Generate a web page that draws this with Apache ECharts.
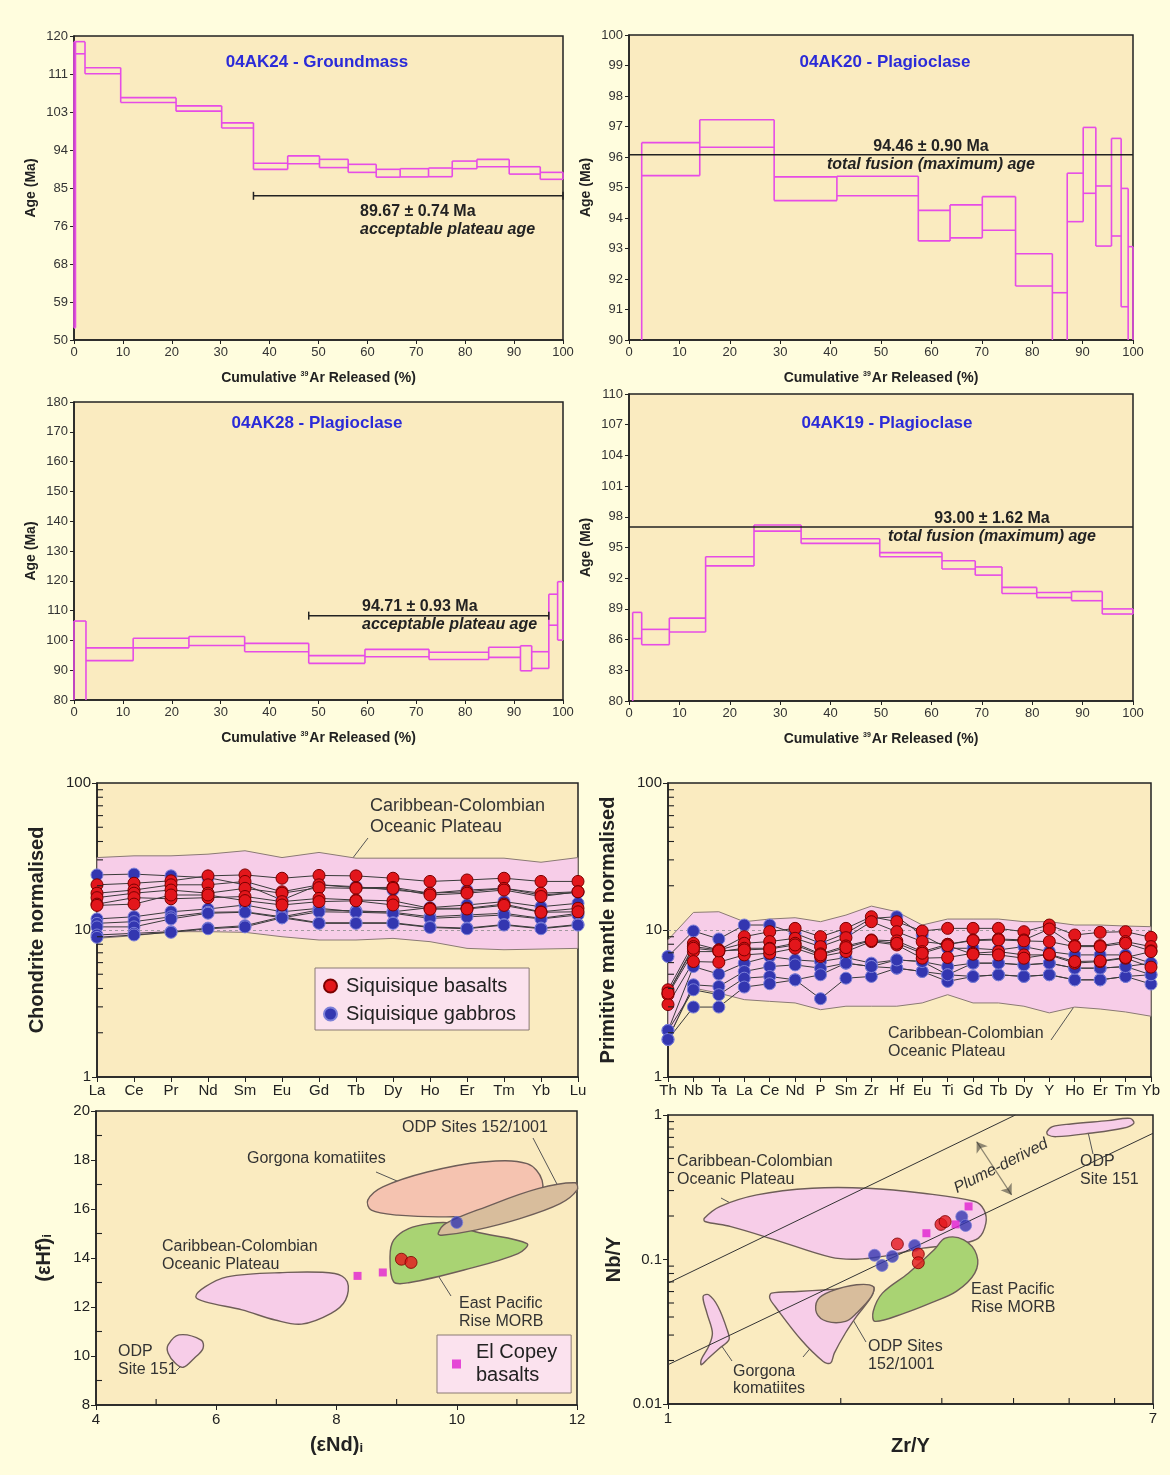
<!DOCTYPE html>
<html><head><meta charset="utf-8">
<script src="https://cdn.jsdelivr.net/npm/echarts@6.0.0/dist/echarts.min.js"></script>
<style>html,body{margin:0;padding:0;background:#FFFDDE;}#chart{width:1170px;height:1475px;}</style>
</head><body><div id="chart"></div>
<script>
// ================= DATA =================
// --- 40Ar/39Ar step-heating spectra (step boundaries in % 39Ar, age upper/lower limits in Ma) ---
const specA_title = '04AK24 - Groundmass';
const specA_steps = [0, 0.3, 2.25, 9.55, 20.87, 30.2, 36.7, 43.7, 50.2, 56.07, 61.8, 66.7, 72.5, 77.35, 82.4, 89.0, 95.35, 100];
const specA_hi = [118.7, 118.7, 112.7, 105.8, 103.9, 100.0, 90.7, 92.4, 91.6, 90.45, 89.3, 89.45, 89.6, 91.2, 91.6, 89.9, 88.6];
const specA_lo = [52.8, 115.9, 111.3, 104.7, 102.7, 98.8, 89.3, 90.6, 89.7, 88.6, 87.5, 87.55, 87.6, 89.45, 89.9, 88.2, 87.0];
const specA_yTicks = ['50', '59', '68', '76', '85', '94', '103', '111', '120'];
const specA_bar = [[36.7, 83.2], [100, 83.2]];
const specA_text = ['89.67 ± 0.74 Ma', 'acceptable plateau age'];

const specB_title = '04AK20 - Plagioclase';
const specB_steps = [0, 2.52, 14.04, 28.8, 41.25, 57.4, 63.7, 70.1, 76.7, 84.0, 86.95, 90.12, 92.63, 95.73, 97.65, 99.04, 100];
const specB_hi = [88.5, 96.47, 97.22, 95.35, 95.37, 94.25, 94.43, 94.7, 92.83, 91.55, 95.47, 96.97, 95.05, 96.61, 94.97, 93.06];
const specB_lo = [85.0, 95.39, 96.32, 94.57, 94.73, 93.25, 93.35, 93.6, 91.77, 89.0, 93.88, 94.81, 93.08, 93.41, 91.09, 88.0];
const specB_yTicks = ['90', '91', '92', '93', '94', '95', '96', '97', '98', '99', '100'];
const specB_bar = [[0, 96.07], [100, 96.07]];
const specB_text = ['94.46 ± 0.90 Ma', 'total fusion (maximum) age'];

const specC_title = '04AK28 - Plagioclase';
const specC_steps = [0, 2.45, 12.1, 23.5, 34.9, 48.0, 59.5, 72.6, 84.8, 91.3, 93.6, 97.1, 98.9, 100];
const specC_hi = [106.5, 97.5, 100.7, 101.3, 99.0, 94.9, 97.0, 96.0, 97.7, 98.2, 96.2, 115.5, 119.7];
const specC_lo = [75.0, 93.2, 97.5, 98.3, 96.2, 92.3, 94.5, 93.6, 94.3, 89.8, 90.6, 105.1, 100.1];
const specC_yTicks = ['80', '90', '100', '110', '120', '130', '140', '150', '160', '170', '180'];
const specC_bar = [[48.0, 108.3], [97.1, 108.3]];
const specC_text = ['94.71 ± 0.93 Ma', 'acceptable plateau age'];

const specD_title = '04AK19 - Plagioclase';
const specD_steps = [0, 0.73, 2.52, 8.0, 15.2, 24.8, 34.15, 49.75, 62.1, 68.7, 74.0, 80.9, 87.8, 93.9, 100];
const specD_hi = [78.0, 88.66, 87.0, 88.1, 94.1, 97.2, 95.85, 94.5, 93.7, 93.1, 91.1, 90.6, 90.7, 89.0];
const specD_lo = [75.0, 86.1, 85.5, 86.75, 93.2, 96.6, 95.4, 94.1, 92.9, 92.3, 90.5, 90.1, 89.8, 88.5];
const specD_yTicks = ['80', '83', '86', '89', '92', '95', '98', '101', '104', '107', '110'];
const specD_bar = [[0, 97.0], [100, 97.0]];
const specD_text = ['93.00 ± 1.62 Ma', 'total fusion (maximum) age'];

// --- Chondrite-normalised REE ---
const reeElements = ['La', 'Ce', 'Pr', 'Nd', 'Sm', 'Eu', 'Gd', 'Tb', 'Dy', 'Ho', 'Er', 'Tm', 'Yb', 'Lu'];
const reeCcopUpper = [31.1, 31.95, 31.95, 32.8, 34.6, 31.1, 33.7, 30.8, 30.8, 30.8, 30.8, 30.8, 28.9, 31.1];
const reeCcopLower = [8.77, 9.15, 9.74, 9.74, 9.64, 9.0, 8.55, 8.55, 8.77, 8.33, 7.5, 7.34, 7.42, 7.5];
const reeBasalts = [
  [20.3, 20.8, 21.6, 23.35, 23.7, 22.5, 23.5, 23.35, 22.5, 21.4, 21.9, 22.5, 21.4, 21.4],
  [17.8, 18.7, 20.3, 20.3, 21.4, 18.2, 20.3, 19.4, 19.5, 17.8, 18.2, 19.2, 17.8, 18.2],
  [16.6, 17.8, 18.7, 17.8, 19.2, 17.8, 19.4, 19.2, 19.2, 17.3, 17.8, 18.7, 16.9, 18.2],
  [15.0, 16.6, 16.3, 16.6, 16.9, 15.6, 16.4, 16.0, 15.8, 14.05, 14.05, 15.0, 13.3, 14.05],
  [14.7, 15.0, 17.3, 17.3, 15.85, 14.8, 15.6, 15.8, 14.8, 13.85, 13.9, 14.7, 13.2, 13.3]
];
const reeGabbros = [
  [23.7, 24.0, 23.35, 22.7, 20.3, 16.0, 20.3, 19.7, 18.7, 17.8, 18.7, 19.2, 17.3, 18.0],
  [11.9, 12.3, 13.3, 13.9, 14.8, 13.3, 14.05, 13.3, 13.3, 14.2, 14.8, 15.6, 14.4, 15.2],
  [11.1, 11.4, 12.3, 13.2, 13.3, 12.3, 13.7, 13.5, 13.2, 12.3, 12.65, 13.0, 12.0, 13.0],
  [10.5, 10.5, 11.9, 13.0, 13.2, 12.1, 13.3, 13.2, 13.0, 12.0, 12.3, 12.65, 11.9, 12.65],
  [9.25, 9.49, 9.74, 10.3, 10.7, 12.3, 11.2, 11.2, 11.2, 10.5, 10.3, 10.9, 10.3, 10.9],
  [8.91, 9.25, 9.64, 10.2, 10.5, 12.1, 11.1, 11.1, 11.1, 10.4, 10.2, 10.8, 10.2, 10.8]
];
const logMinorTicks_1_100 = [2, 3, 4, 5, 6, 7, 8, 9, 20, 30, 40, 50, 60, 70, 80, 90];

// --- Primitive-mantle-normalised multi-element ---
const pmElements = ['Th', 'Nb', 'Ta', 'La', 'Ce', 'Nd', 'P', 'Sm', 'Zr', 'Hf', 'Eu', 'Ti', 'Gd', 'Tb', 'Dy', 'Y', 'Ho', 'Er', 'Tm', 'Yb'];
const pmCcopUpper = [8.56, 13.17, 13.31, 11.39, 11.87, 12.12, 11.39, 12.63, 14.54, 13.31, 10.81, 11.87, 11.87, 11.87, 11.39, 11.39, 10.81, 10.81, 10.64, 10.53];
const pmCcopLower = [1.85, 4.03, 3.72, 3.36, 3.27, 3.19, 2.87, 3.03, 3.03, 3.03, 3.19, 3.63, 3.19, 3.19, 3.03, 2.73, 2.99, 2.90, 2.77, 2.59];
const pmBasalts = [
  [3.92, 8.12, 7.32, 9.01, 9.74, 10.26, 9.01, 10.26, 12.31, 11.39, 9.84, 10.26, 10.26, 10.26, 9.74, 10.81, 9.25, 9.64, 9.74, 8.92],
  [3.72, 7.71, 7.32, 8.12, 8.34, 8.78, 7.71, 8.87, 11.39, 9.74, 8.34, 7.99, 8.56, 8.69, 8.56, 10.16, 7.83, 7.83, 8.34, 7.71],
  [3.63, 7.13, 7.13, 7.51, 7.51, 8.12, 6.88, 7.79, 8.56, 8.43, 7.13, 7.99, 8.47, 8.56, 8.43, 8.34, 7.71, 7.71, 8.12, 7.21],
  [3.11, 6.10, 6.04, 6.77, 6.95, 7.51, 6.60, 7.13, 8.34, 7.91, 6.43, 6.50, 6.95, 7.13, 6.77, 6.77, 5.95, 6.10, 6.43, 5.59],
  [3.72, 7.51, 7.21, 7.32, 7.43, 7.91, 6.77, 7.59, 8.47, 8.12, 6.95, 7.83, 6.84, 6.77, 6.43, 6.84, 6.10, 6.16, 6.50, 7.13]
];
const pmGabbros = [
  [6.60, 9.84, 8.69, 10.81, 10.81, 9.49, 8.12, 9.49, 11.99, 12.31, 9.25, 7.51, 7.51, 7.32, 7.71, 7.13, 6.77, 6.77, 6.77, 5.95],
  [2.07, 5.64, 5.01, 5.95, 6.60, 6.26, 6.10, 6.50, 5.95, 6.26, 6.10, 5.64, 5.95, 5.95, 5.79, 5.95, 5.50, 5.50, 5.64, 5.95],
  [1.80, 4.24, 4.13, 5.22, 5.64, 5.79, 5.50, 5.95, 5.64, 5.50, 5.22, 4.96, 4.83, 4.96, 4.83, 4.96, 4.58, 4.58, 4.83, 4.96],
  [2.07, 3.92, 3.63, 4.70, 4.83, 4.58, 3.41, 4.70, 4.83, 5.50, 5.22, 4.47, 4.83, 4.96, 4.83, 4.96, 4.58, 4.58, 4.83, 4.29],
  [1.80, 2.99, 2.99, 4.09, 4.31, 4.58, 4.96, 5.95, 5.64, 6.26, 6.10, 4.96, 5.95, 5.95, 5.79, 5.95, 5.50, 5.50, 5.64, 4.96]
];

// --- (eHf)i vs (eNd)i ---
const hfCcop = [[5.66, 12.42], [5.82, 12.83], [6.18, 13.23], [7.05, 13.40], [7.97, 13.37], [8.18, 13.03], [8.15, 12.28], [7.91, 11.74], [7.42, 11.30], [6.98, 11.47], [6.43, 11.88], [5.82, 12.21]];
const hfOdp151 = [[5.2, 10.45], [5.38, 10.86], [5.75, 10.65], [5.78, 10.31], [5.63, 9.90], [5.45, 9.54], [5.32, 9.70], [5.2, 10.11]];
const hfGorgona = [[8.52, 16.36], [8.77, 16.90], [9.51, 17.51], [10.43, 17.92], [11.17, 17.85], [11.42, 17.17], [11.35, 16.36], [10.74, 15.82], [9.82, 15.68], [9.02, 15.75], [8.58, 15.95]];
const hfOdp152 = [[9.69, 15.0], [9.82, 15.41], [10.49, 16.09], [11.35, 16.83], [11.97, 17.07], [12.0, 16.77], [11.72, 16.22], [11.05, 15.61], [10.31, 15.14], [9.75, 14.93]];
const hfEpr = [[8.95, 13.03], [8.89, 14.05], [8.95, 14.73], [9.2, 15.2], [9.57, 15.41], [9.88, 15.43], [10.31, 15.07], [11.17, 14.59], [11.02, 14.18], [10.12, 13.51], [9.2, 12.99]];
const hfBasalts = [[9.08, 13.95], [9.24, 13.82]];
const hfGabbros = [[10.0, 15.45]];
const hfCopey = [[8.35, 13.27], [8.77, 13.41]];
const hfMinorX = [5, 7, 9, 11];
const hfMinorY = [9, 11, 13, 15, 17, 19];

// --- Nb/Y vs Zr/Y ---
const nbyCcop = [[1.157, 0.1931], [1.231, 0.2325], [1.428, 0.280], [1.783, 0.3112], [2.227, 0.3112], [2.783, 0.2874], [3.424, 0.2518], [3.553, 0.2205], [3.580, 0.1784], [3.475, 0.1405], [3.227, 0.1283], [2.783, 0.1198], [2.399, 0.106], [2.131, 0.1005], [1.920, 0.1038], [1.537, 0.1368], [1.287, 0.169], [1.160, 0.1831]];
const nbyOdp151 = [[4.575, 0.767], [4.677, 0.831], [5.036, 0.867], [5.841, 0.914], [6.386, 0.948], [6.481, 0.876], [6.2, 0.809], [5.424, 0.747], [4.747, 0.708], [4.595, 0.727]];
const nbyGorgonaSmall = [[1.151, 0.0555], [1.177, 0.057], [1.222, 0.0473], [1.268, 0.0326], [1.277, 0.0278], [1.231, 0.0244], [1.177, 0.0208], [1.143, 0.0187], [1.143, 0.0203], [1.177, 0.025], [1.195, 0.031], [1.169, 0.0426]];
const nbyGorgonaBig = [[1.515, 0.0585], [1.681, 0.0601], [1.892, 0.0617], [2.068, 0.0633], [2.278, 0.065], [2.262, 0.0555], [2.131, 0.0404], [2.038, 0.031], [1.949, 0.0225], [1.920, 0.0192], [1.864, 0.0197], [1.706, 0.0278], [1.537, 0.0473], [1.504, 0.054]];
const nbyOdp152 = [[1.823, 0.0526], [1.920, 0.0601], [2.131, 0.0668], [2.278, 0.065], [2.262, 0.0555], [2.131, 0.0426], [2.038, 0.0373], [1.892, 0.0373], [1.815, 0.0426]];
const nbyEpr = [[2.278, 0.0437], [2.364, 0.0585], [2.623, 0.0804], [2.909, 0.1166], [3.042, 0.1405], [3.276, 0.1368], [3.450, 0.1077], [3.424, 0.0804], [3.18, 0.0601], [2.866, 0.0499], [2.584, 0.0426], [2.295, 0.0373]];
const nbyBasalts = [[2.51, 0.128], [2.73, 0.109], [2.73, 0.095], [2.99, 0.175], [3.04, 0.183]];
const nbyGabbros = [[2.29, 0.107], [2.36, 0.091], [2.46, 0.105], [2.69, 0.125], [3.25, 0.198], [3.30, 0.172]];
const nbyCopey = [[2.82, 0.152], [3.17, 0.175], [3.34, 0.233]];
const nbyTrendUpper = [[1, 0.0686], [4.03, 1]];
const nbyTrendLower = [[1, 0.0187], [7, 0.747]];
const nbyPlumeArrow = [[3.45, 0.654], [3.97, 0.28]];
const nbyMinorX = [2, 3, 4, 5, 6];
const nbyMinorY = [0.02, 0.03, 0.04, 0.05, 0.06, 0.07, 0.08, 0.09, 0.2, 0.3, 0.4, 0.5, 0.6, 0.7, 0.8, 0.9];

// ================= STYLE =================
const FONT = '"Liberation Sans", Arial, sans-serif';
const PLOT_BG = '#FAEBC0';
const AX = '#222222';
const MAGENTA = '#E64CE6';
const RED = '#E3161B', RED_EDGE = '#7A0000';
const BLUE = '#3336B0', BLUE_EDGE = '#7C80D8';
const COPEY = '#E020D0';
const PINK = '#F7CDE8', SALMON = '#F5C3B0', TAN = '#D8BD9C', GREEN = '#A9D373', OUTLINE = '#6E5E58';

const grids = [], xAxes = [], yAxes = [], series = [], graphics = [];
function addGrid(g) {
  grids.push(Object.assign({show: true, backgroundColor: PLOT_BG, borderColor: AX, borderWidth: 1.5}, g));
  return grids.length - 1;
}
const axLine = {show: true, lineStyle: {color: AX, width: 1.5}};

// ---------- spectra ----------
function stepSeries(steps, hi, lo, yMin, yMax, xi, yi) {
  const n = hi.length;
  const clamp = v => Math.max(yMin, Math.min(yMax, v));
  const inR = v => v >= yMin && v <= yMax;
  return {
    type: 'custom', xAxisIndex: xi, yAxisIndex: yi, silent: true, z: 3,
    data: hi.map((h, i) => [steps[i], steps[i + 1], lo[i], h]),
    encode: {x: [0, 1], y: [2, 3]},
    renderItem(params, api) {
      const i = params.dataIndex;
      const x0 = steps[i], x1 = steps[i + 1];
      const segs = [];
      if (inR(hi[i])) segs.push([[x0, hi[i]], [x1, hi[i]]]);
      if (inR(lo[i])) segs.push([[x0, lo[i]], [x1, lo[i]]]);
      const vLo = i === 0 ? lo[0] : Math.min(lo[i - 1], lo[i]);
      const vHi = i === 0 ? hi[0] : Math.max(hi[i - 1], hi[i]);
      if (vHi >= yMin && vLo <= yMax) segs.push([[x0, clamp(vLo)], [x0, clamp(vHi)]]);
      if (i === n - 1 && hi[i] >= yMin && lo[i] <= yMax) segs.push([[x1, clamp(lo[i])], [x1, clamp(hi[i])]]);
      return {
        type: 'group',
        children: segs.map(s => {
          const a = api.coord(s[0]), b = api.coord(s[1]);
          return {type: 'line', shape: {x1: a[0], y1: a[1], x2: b[0], y2: b[1]}, style: {stroke: MAGENTA, lineWidth: 1.6}};
        })
      };
    }
  };
}

const spectra = [
  {title: specA_title, steps: specA_steps, hi: specA_hi, lo: specA_lo, ticks: specA_yTicks, bar: specA_bar, text: specA_text, caps: true,
   grid: {left: 74, top: 36, width: 489, height: 304}, titlePos: [317, 62], textPos: [360, 212], textAlign: 'left'},
  {title: specB_title, steps: specB_steps, hi: specB_hi, lo: specB_lo, ticks: specB_yTicks, bar: specB_bar, text: specB_text, caps: false,
   grid: {left: 629, top: 35, width: 504, height: 305}, titlePos: [885, 62], textPos: [931, 147], textAlign: 'center'},
  {title: specC_title, steps: specC_steps, hi: specC_hi, lo: specC_lo, ticks: specC_yTicks, bar: specC_bar, text: specC_text, caps: true,
   grid: {left: 74, top: 402, width: 489, height: 298}, titlePos: [317, 423], textPos: [362, 607], textAlign: 'left'},
  {title: specD_title, steps: specD_steps, hi: specD_hi, lo: specD_lo, ticks: specD_yTicks, bar: specD_bar, text: specD_text, caps: false,
   grid: {left: 629, top: 394, width: 504, height: 307}, titlePos: [887, 423], textPos: [992, 519], textAlign: 'center'}
];

spectra.forEach(sp => {
  const gi = addGrid(sp.grid);
  const yMin = Number(sp.ticks[0]), yMax = Number(sp.ticks[sp.ticks.length - 1]);
  const xi = xAxes.length;
  xAxes.push({
    gridIndex: gi, type: 'value', min: 0, max: 100, interval: 10, position: 'bottom',
    axisLine: axLine, axisTick: {show: true, length: 4, lineStyle: {color: AX}},
    axisLabel: {fontSize: 13, color: '#333', fontFamily: FONT, margin: 6},
    splitLine: {show: false},
    name: '{a|Cumulative }{s|39}{a|Ar Released (%)}', nameLocation: 'middle', nameGap: 31,
    nameTextStyle: {rich: {
      a: {fontSize: 14, fontWeight: 'bold', color: AX, fontFamily: FONT},
      s: {fontSize: 7, fontWeight: 'bold', color: AX, fontFamily: FONT, verticalAlign: 'top', padding: [0, 1, 0, 0]}
    }}
  });
  const yi = yAxes.length;
  yAxes.push({gridIndex: gi, type: 'value', min: yMin, max: yMax, show: false, position: 'right', splitLine: {show: false}});
  yAxes.push({
    gridIndex: gi, type: 'category', data: sp.ticks, boundaryGap: false, position: 'left',
    axisLine: axLine, axisTick: {show: true, length: 4, lineStyle: {color: AX}},
    axisLabel: {interval: 0, fontSize: 13, color: '#333', fontFamily: FONT, margin: 6},
    splitLine: {show: false},
    name: 'Age (Ma)', nameLocation: 'middle', nameGap: 36,
    nameTextStyle: {fontSize: 14, fontWeight: 'bold', color: AX, fontFamily: FONT}
  });
  series.push(stepSeries(sp.steps, sp.hi, sp.lo, yMin, yMax, xi, yi));
  series.push({
    type: 'line', xAxisIndex: xi, yAxisIndex: yi, data: sp.bar, silent: true, z: 4,
    symbol: sp.caps ? 'rect' : 'none', symbolSize: [1.5, 8], showSymbol: sp.caps,
    lineStyle: {color: AX, width: 1.5}, itemStyle: {color: AX}
  });
  graphics.push({type: 'text', x: sp.titlePos[0], y: sp.titlePos[1], silent: true,
    style: {text: sp.title, font: 'bold 17px ' + FONT, fill: '#2B2BD8', align: 'center', verticalAlign: 'middle'}});
  graphics.push({type: 'text', x: sp.textPos[0], y: sp.textPos[1], silent: true,
    style: {text: sp.text[0], font: 'bold 16px ' + FONT, fill: AX, align: sp.textAlign, verticalAlign: 'middle'}});
  graphics.push({type: 'text', x: sp.textPos[0], y: sp.textPos[1] + 18, silent: true,
    style: {text: sp.text[1], font: 'italic bold 16px ' + FONT, fill: AX, align: sp.textAlign, verticalAlign: 'middle'}});
});

// ---------- helpers for lower panels ----------
function minorTickSeries(xi, yi, pts, dx, dy) {
  return {
    type: 'custom', xAxisIndex: xi, yAxisIndex: yi, data: pts, encode: {x: 0, y: 1}, silent: true, z: 8,
    renderItem(params, api) {
      const p = api.coord([api.value(0), api.value(1)]);
      return {type: 'line', shape: {x1: p[0], y1: p[1], x2: p[0] + dx, y2: p[1] + dy}, style: {stroke: AX, lineWidth: 1.1}};
    }
  };
}
function envelopeSeries(xi, yi, upper, lower) {
  return {
    type: 'custom', xAxisIndex: xi, yAxisIndex: yi, silent: true, z: 1,
    data: upper.map((v, i) => [i, v, lower[i]]), encode: {x: 0, y: [1, 2]},
    renderItem(params, api) {
      if (params.dataIndex !== 0) return;
      const top = upper.map((v, i) => api.coord([i, v]));
      const bot = lower.map((v, i) => api.coord([i, v])).reverse();
      return {type: 'polygon', shape: {points: top.concat(bot)}, style: {fill: PINK, stroke: '#8A7A74', lineWidth: 1}};
    },
    markLine: {silent: true, symbol: 'none', label: {show: false}, data: [{yAxis: 10}],
      lineStyle: {type: [3, 3], color: '#8A8A8A', width: 0.8}}
  };
}
function sampleLine(name, vals, xi, yi, color, edge) {
  return {
    type: 'line', name, xAxisIndex: xi, yAxisIndex: yi, data: vals, silent: true, z: 5,
    symbol: 'circle', symbolSize: 12, showSymbol: true, showAllSymbol: true,
    lineStyle: {color: '#3A3A3A', width: 1}, itemStyle: {color, borderColor: edge, borderWidth: 1}
  };
}
function regionSeries(xi, yi, pts, fill) {
  return {
    type: 'custom', xAxisIndex: xi, yAxisIndex: yi, data: pts, encode: {x: 0, y: 1}, silent: true, z: 1,
    renderItem(params, api) {
      if (params.dataIndex !== 0) return;
      return {type: 'polygon', shape: {points: pts.map(p => api.coord(p)), smooth: 0.35},
        style: {fill, stroke: OUTLINE, lineWidth: 1.4}};
    }
  };
}
function scatterSeries(name, pts, xi, yi, kind) {
  const s = {type: 'scatter', name, xAxisIndex: xi, yAxisIndex: yi, data: pts, silent: true, z: 7};
  if (kind === 'red') Object.assign(s, {symbol: 'circle', symbolSize: 12, itemStyle: {color: RED, borderColor: RED_EDGE, borderWidth: 1}});
  if (kind === 'blue') Object.assign(s, {symbol: 'circle', symbolSize: 12, itemStyle: {color: BLUE, borderColor: BLUE_EDGE, borderWidth: 1}});
  if (kind === 'copey') Object.assign(s, {symbol: 'rect', symbolSize: 8, itemStyle: {color: COPEY}});
  return s;
}
const lowLabel = {fontSize: 15, color: AX, fontFamily: FONT};
const bigName = {fontSize: 20, fontWeight: 'bold', color: AX, fontFamily: FONT};
const tickOut = {show: true, length: 5, lineStyle: {color: AX}};

// ---------- REE panel ----------
{
  const gi = addGrid({left: 97, top: 783, width: 481, height: 294});
  const xi = xAxes.length, yi = yAxes.length;
  xAxes.push({gridIndex: gi, type: 'category', data: reeElements, boundaryGap: false, axisLine: axLine, axisTick: tickOut,
    axisLabel: Object.assign({interval: 0, margin: 6}, lowLabel), splitLine: {show: false}});
  yAxes.push({gridIndex: gi, type: 'log', logBase: 10, min: 1, max: 100, axisLine: axLine, axisTick: tickOut,
    axisLabel: Object.assign({margin: 6}, lowLabel), splitLine: {show: false},
    name: 'Chondrite normalised', nameLocation: 'middle', nameGap: 50, nameTextStyle: bigName});
  series.push(envelopeSeries(xi, yi, reeCcopUpper, reeCcopLower));
  reeGabbros.forEach(v => series.push(sampleLine('Siquisique gabbros', v, xi, yi, BLUE, BLUE_EDGE)));
  reeBasalts.forEach(v => series.push(sampleLine('Siquisique basalts', v, xi, yi, RED, RED_EDGE)));
  series.push(minorTickSeries(xi, yi, logMinorTicks_1_100.map(v => [0, v]), 6, 0));
  graphics.push({type: 'text', x: 370, y: 806, silent: true, style: {text: 'Caribbean-Colombian', font: '18px ' + FONT, fill: '#333', align: 'left', verticalAlign: 'middle'}});
  graphics.push({type: 'text', x: 370, y: 827, silent: true, style: {text: 'Oceanic Plateau', font: '18px ' + FONT, fill: '#333', align: 'left', verticalAlign: 'middle'}});
  graphics.push({type: 'line', silent: true, shape: {x1: 368, y1: 838, x2: 349, y2: 863}, style: {stroke: '#555', lineWidth: 1}});
}

// ---------- Spider panel ----------
{
  const gi = addGrid({left: 668, top: 783, width: 483, height: 294});
  const xi = xAxes.length, yi = yAxes.length;
  xAxes.push({gridIndex: gi, type: 'category', data: pmElements, boundaryGap: false, axisLine: axLine, axisTick: tickOut,
    axisLabel: Object.assign({interval: 0, margin: 6}, lowLabel), splitLine: {show: false}});
  yAxes.push({gridIndex: gi, type: 'log', logBase: 10, min: 1, max: 100, axisLine: axLine, axisTick: tickOut,
    axisLabel: Object.assign({margin: 6}, lowLabel), splitLine: {show: false},
    name: 'Primitive mantle normalised', nameLocation: 'middle', nameGap: 50, nameTextStyle: bigName});
  series.push(envelopeSeries(xi, yi, pmCcopUpper, pmCcopLower));
  pmGabbros.forEach(v => series.push(sampleLine('Siquisique gabbros', v, xi, yi, BLUE, BLUE_EDGE)));
  pmBasalts.forEach(v => series.push(sampleLine('Siquisique basalts', v, xi, yi, RED, RED_EDGE)));
  series.push(minorTickSeries(xi, yi, logMinorTicks_1_100.map(v => [0, v]), 6, 0));
  graphics.push({type: 'text', x: 888, y: 1034, silent: true, style: {text: 'Caribbean-Colombian', font: '16px ' + FONT, fill: '#333', align: 'left', verticalAlign: 'middle'}});
  graphics.push({type: 'text', x: 888, y: 1052, silent: true, style: {text: 'Oceanic Plateau', font: '16px ' + FONT, fill: '#333', align: 'left', verticalAlign: 'middle'}});
  graphics.push({type: 'line', silent: true, shape: {x1: 1051, y1: 1040, x2: 1080, y2: 998}, style: {stroke: '#555', lineWidth: 1}});
}

// ---------- eHf vs eNd ----------
{
  const gi = addGrid({left: 96, top: 1111, width: 481, height: 294});
  const xi = xAxes.length, yi = yAxes.length;
  xAxes.push({gridIndex: gi, type: 'value', min: 4, max: 12, interval: 2, axisLine: axLine, axisTick: tickOut,
    axisLabel: Object.assign({margin: 7}, lowLabel), splitLine: {show: false},
    name: '{a|(εNd)}{s|i}', nameLocation: 'middle', nameGap: 30,
    nameTextStyle: {rich: {a: bigName, s: {fontSize: 13, fontWeight: 'bold', color: AX, fontFamily: FONT, verticalAlign: 'bottom'}}}});
  yAxes.push({gridIndex: gi, type: 'value', min: 8, max: 20, interval: 2, axisLine: axLine, axisTick: tickOut,
    axisLabel: Object.assign({margin: 6}, lowLabel), splitLine: {show: false},
    name: '{a|(εHf)}{s|i}', nameLocation: 'middle', nameGap: 42,
    nameTextStyle: {rich: {a: bigName, s: {fontSize: 13, fontWeight: 'bold', color: AX, fontFamily: FONT, verticalAlign: 'bottom'}}}});
  series.push(regionSeries(xi, yi, hfCcop, PINK));
  series.push(regionSeries(xi, yi, hfOdp151, PINK));
  series.push(regionSeries(xi, yi, hfGorgona, SALMON));
  series.push(regionSeries(xi, yi, hfEpr, GREEN));
  series.push(regionSeries(xi, yi, hfOdp152, TAN));
  series.push(minorTickSeries(xi, yi, hfMinorX.map(v => [v, 8]), 0, -6));
  series.push(minorTickSeries(xi, yi, hfMinorY.map(v => [4, v]), 6, 0));
  series.push(scatterSeries('El Copey basalts', hfCopey, xi, yi, 'copey'));
  series.push(scatterSeries('Siquisique gabbros', hfGabbros, xi, yi, 'blue'));
  series.push(scatterSeries('Siquisique basalts', hfBasalts, xi, yi, 'red'));
  const t = (x, y, s) => graphics.push({type: 'text', x, y, silent: true, style: {text: s, font: '16px ' + FONT, fill: '#333', align: 'left', verticalAlign: 'middle'}});
  t(402, 1128, 'ODP Sites 152/1001');
  t(247, 1159, 'Gorgona komatiites');
  t(162, 1247, 'Caribbean-Colombian');
  t(162, 1265, 'Oceanic Plateau');
  t(118, 1352, 'ODP');
  t(118, 1370, 'Site 151');
  t(459, 1304, 'East Pacific');
  t(459, 1322, 'Rise MORB');
  const l = (x1, y1, x2, y2) => graphics.push({type: 'line', silent: true, shape: {x1, y1, x2, y2}, style: {stroke: '#555', lineWidth: 1}});
  l(376, 1172, 411, 1187);
  l(533, 1138, 559, 1188);
  l(451, 1296, 427, 1258);
  l(176, 1371, 184, 1363);
}

// ---------- Nb/Y vs Zr/Y ----------
{
  const gi = addGrid({left: 668, top: 1115, width: 485, height: 289});
  const xi = xAxes.length, yi = yAxes.length;
  xAxes.push({gridIndex: gi, type: 'log', logBase: 10, min: 1, max: 7, axisLine: axLine, axisTick: tickOut,
    axisLabel: Object.assign({margin: 7, showMinLabel: true, showMaxLabel: true}, lowLabel), splitLine: {show: false},
    name: 'Zr/Y', nameLocation: 'middle', nameGap: 32, nameTextStyle: bigName});
  yAxes.push({gridIndex: gi, type: 'log', logBase: 10, min: 0.01, max: 1, axisLine: axLine, axisTick: tickOut,
    axisLabel: Object.assign({margin: 6}, lowLabel), splitLine: {show: false},
    name: 'Nb/Y', nameLocation: 'middle', nameGap: 44, nameTextStyle: bigName});
  series.push(regionSeries(xi, yi, nbyCcop, PINK));
  series.push(regionSeries(xi, yi, nbyOdp151, PINK));
  series.push(regionSeries(xi, yi, nbyGorgonaSmall, PINK));
  series.push(regionSeries(xi, yi, nbyGorgonaBig, PINK));
  series.push(regionSeries(xi, yi, nbyOdp152, TAN));
  series.push(regionSeries(xi, yi, nbyEpr, GREEN));
  [nbyTrendUpper, nbyTrendLower].forEach(tr => series.push({type: 'line', xAxisIndex: xi, yAxisIndex: yi, data: tr, symbol: 'none',
    silent: true, z: 3, lineStyle: {color: '#333', width: 1}}));
  series.push({type: 'lines', coordinateSystem: 'cartesian2d', xAxisIndex: xi, yAxisIndex: yi, silent: true, z: 3,
    symbol: ['arrow', 'arrow'], symbolSize: 10, data: [{coords: nbyPlumeArrow}], lineStyle: {color: '#222', width: 1.2}});
  series.push(minorTickSeries(xi, yi, nbyMinorX.map(v => [v, 0.01]), 0, -6));
  series.push(minorTickSeries(xi, yi, nbyMinorY.map(v => [1, v]), 6, 0));
  series.push(scatterSeries('Siquisique gabbros', nbyGabbros, xi, yi, 'blue'));
  series.push(scatterSeries('El Copey basalts', nbyCopey, xi, yi, 'copey'));
  series.push(scatterSeries('Siquisique basalts', nbyBasalts, xi, yi, 'red'));
  const t = (x, y, s) => graphics.push({type: 'text', x, y, silent: true, style: {text: s, font: '16px ' + FONT, fill: '#333', align: 'left', verticalAlign: 'middle'}});
  t(677, 1162, 'Caribbean-Colombian');
  t(677, 1180, 'Oceanic Plateau');
  t(1080, 1162, 'ODP');
  t(1080, 1180, 'Site 151');
  t(971, 1290, 'East Pacific');
  t(971, 1308, 'Rise MORB');
  t(868, 1347, 'ODP Sites');
  t(868, 1365, '152/1001');
  t(733, 1372, 'Gorgona');
  t(733, 1389, 'komatiites');
  graphics.push({type: 'text', x: 1001, y: 1166, rotation: 26.8 * Math.PI / 180, silent: true,
    style: {text: 'Plume-derived', font: 'italic 16px ' + FONT, fill: '#333', align: 'center', verticalAlign: 'middle'}});
  const l = (x1, y1, x2, y2) => graphics.push({type: 'line', silent: true, shape: {x1, y1, x2, y2}, style: {stroke: '#555', lineWidth: 1}});
  l(721, 1198, 749, 1213);
  l(1088, 1132, 1093, 1154);
  l(849, 1313, 866, 1342);
  l(803, 1357, 823, 1333);
  l(721, 1345, 732, 1361);
}

const option = {
  animation: false,
  backgroundColor: '#FFFDDE',
  textStyle: {fontFamily: FONT},
  grid: grids, xAxis: xAxes, yAxis: yAxes, series,
  graphic: {elements: graphics},
  legend: [
    {left: 315, top: 968, orient: 'vertical', selectedMode: false, itemWidth: 13, itemHeight: 13, itemGap: 8,
     backgroundColor: '#FBE2EE', borderColor: '#8A7A74', borderWidth: 1, padding: [8, 13, 6, 8],
     textStyle: {fontSize: 20, color: AX, fontFamily: FONT, padding: [0, 0, 0, 4]},
     data: [{name: 'Siquisique basalts', icon: 'circle'}, {name: 'Siquisique gabbros', icon: 'circle'}]},
    {left: 437, top: 1335, orient: 'vertical', selectedMode: false, itemWidth: 9, itemHeight: 9,
     backgroundColor: '#FBE2EE', borderColor: '#8A7A74', borderWidth: 1, padding: [6, 14, 6, 15],
     textStyle: {fontSize: 20, lineHeight: 23, color: AX, fontFamily: FONT, padding: [0, 0, 0, 10]},
     formatter: () => 'El Copey\nbasalts',
     data: [{name: 'El Copey basalts', icon: 'rect'}]}
  ]
};
const chart = echarts.init(document.getElementById('chart'), null, {renderer: 'canvas'});
chart.setOption(option);
</script></body></html>
